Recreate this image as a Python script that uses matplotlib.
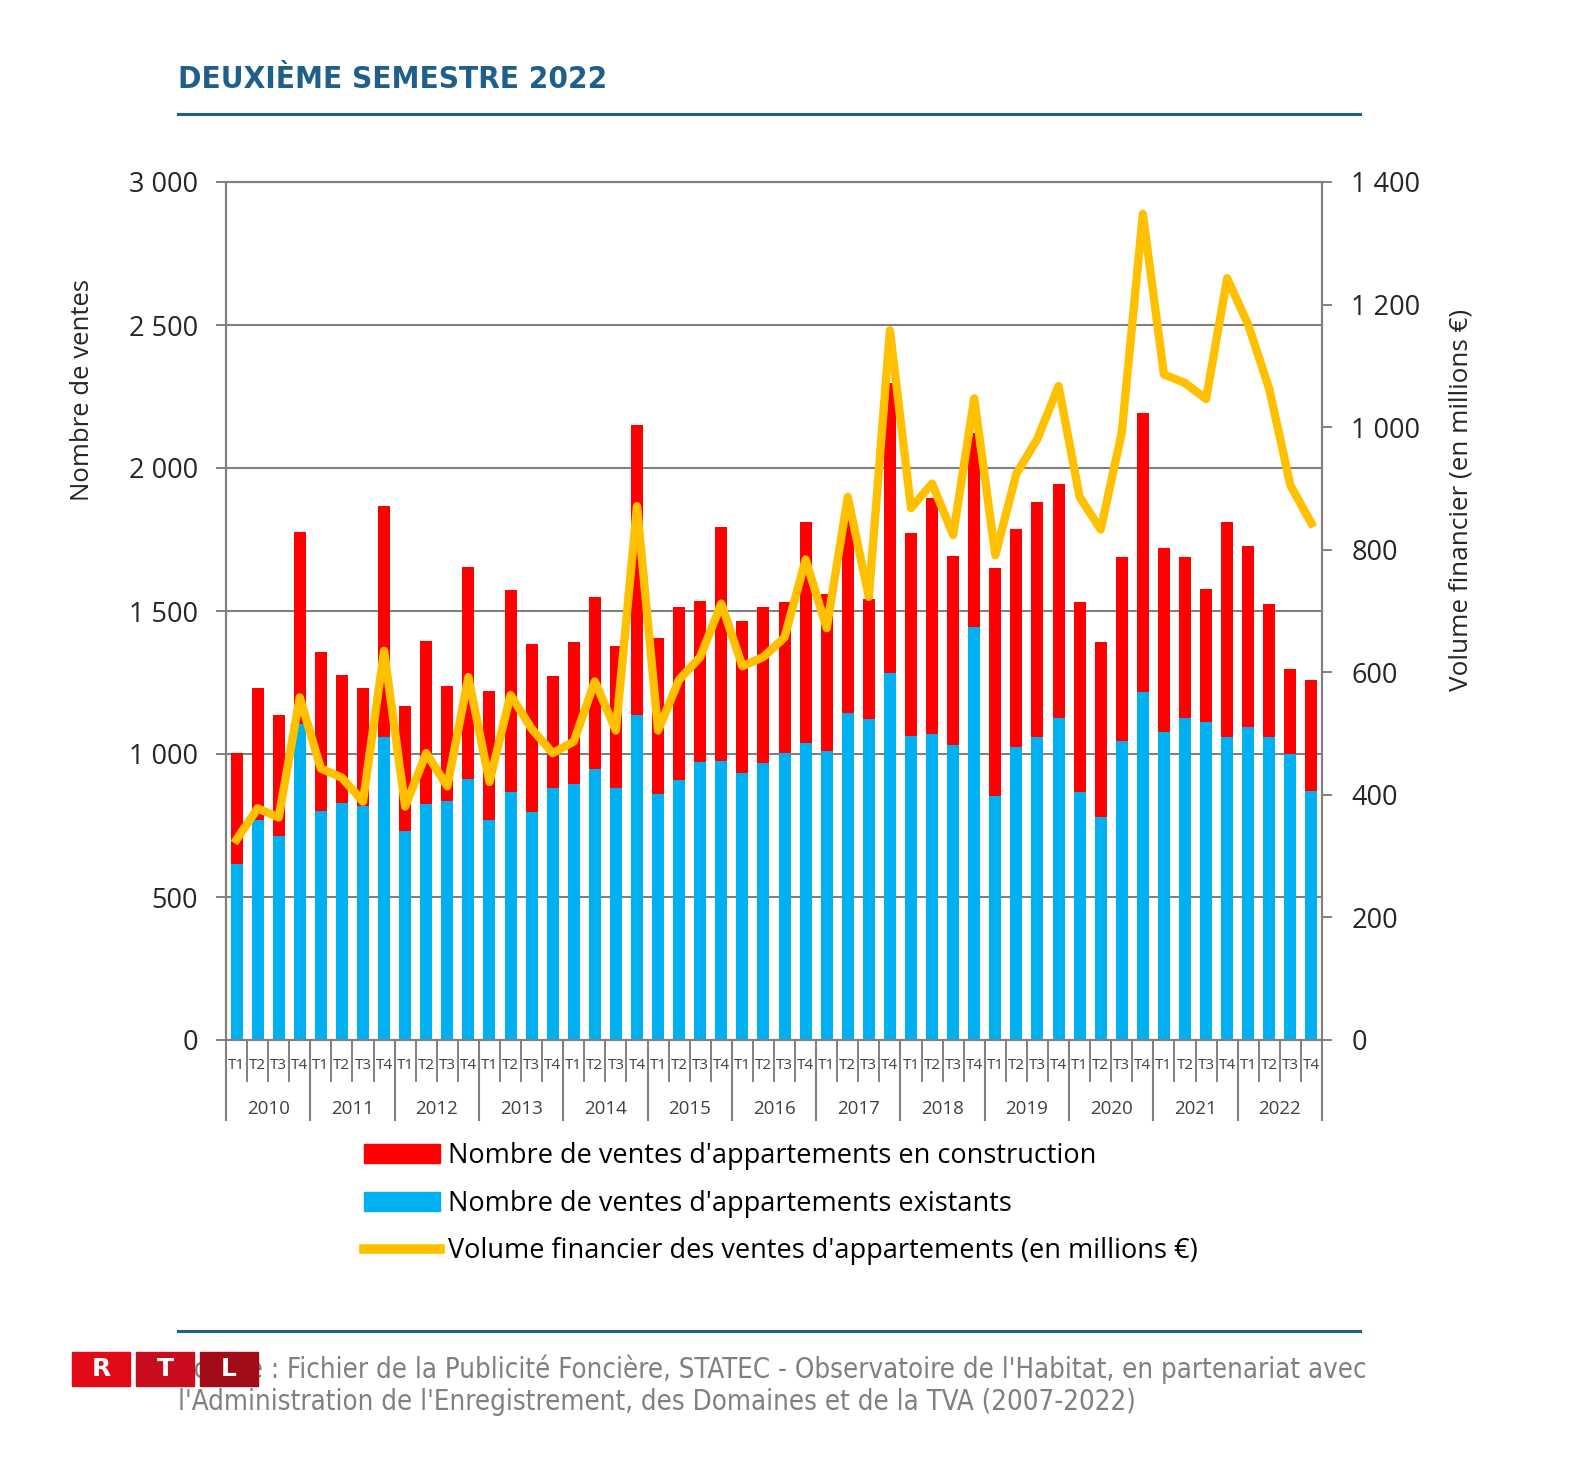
import matplotlib
matplotlib.use("Agg")
import matplotlib.pyplot as plt
from matplotlib import font_manager
from matplotlib.patches import Patch, Rectangle
from matplotlib.lines import Line2D

# quarters 2010 T1 .. 2022 T4
years = [str(y) for y in range(2010, 2023)]
quarters = ["T1", "T2", "T3", "T4"]

# Nombre de ventes d'appartements existants
existing = [615, 770, 713, 1105, 801, 828, 817, 1058, 731, 825, 837, 913,
            770, 867, 798, 882, 895, 949, 882, 1136, 861, 910, 973, 977,
            934, 968, 1004, 1038, 1012, 1144, 1124, 1284, 1063, 1071, 1030, 1443,
            853, 1025, 1061, 1127, 867, 780, 1045, 1218, 1078, 1127, 1112, 1061,
            1096, 1061, 1000, 871]

# Nombre de ventes d'appartements en construction
construction = [389, 460, 423, 672, 556, 448, 413, 809, 436, 571, 400, 740,
                452, 708, 587, 389, 496, 600, 494, 1016, 544, 604, 563, 816,
                532, 545, 529, 772, 549, 674, 417, 1013, 711, 824, 663, 679,
                796, 763, 821, 818, 664, 612, 643, 976, 643, 561, 466, 751,
                633, 464, 296, 388]

# Volume financier (en millions EUR)
volume = [327, 378, 363, 559, 443, 428, 389, 635, 381, 468, 414, 592,
          421, 563, 508, 468, 487, 585, 505, 871, 505, 588, 625, 712,
          610, 625, 657, 784, 672, 886, 723, 1158, 868, 908, 824, 1047,
          791, 924, 981, 1067, 886, 833, 991, 1348, 1086, 1072, 1046, 1243,
          1167, 1062, 905, 843]

W, H = 1572, 1463
def fx(px):
    return px / W
def fy(py):
    return 1 - py / H

names = {f.name for f in font_manager.fontManager.ttflist}
main_font = "Open Sans" if "Open Sans" in names else "DejaVu Sans"
narrow_font = "Liberation Sans Narrow" if "Liberation Sans Narrow" in names else "DejaVu Sans"

plt.rcParams["font.family"] = [main_font, "DejaVu Sans"]

RED = "#ff0000"
BLUE = "#00b0f0"
YELLOW = "#ffc000"
GRAY = "#808080"
NAVY = "#1f5f8c"

fig = plt.figure(figsize=(W / 100, H / 100), dpi=100)
ax = fig.add_axes([fx(226), fy(1040), fx(1322) - fx(226), fy(182) - fy(1040)])

x = list(range(len(existing)))
ax.bar(x, existing, width=0.57, color=BLUE, zorder=2)
ax.bar(x, construction, width=0.57, bottom=existing, color=RED, zorder=2)

ax.set_xlim(-0.5, len(x) - 0.5)
ax.set_ylim(0, 3000)
yt = list(range(0, 3001, 500))
ax.set_yticks(yt)
ax.set_yticklabels([f"{v:,}".replace(",", " ") for v in yt], fontsize=19.5, color="#262626")
ax.yaxis.grid(True, color=GRAY, lw=1.5)
ax.set_axisbelow(True)
ax.tick_params(axis="y", length=7, width=1.4, color=GRAY, pad=13)
for s in ax.spines.values():
    s.set_color(GRAY)
    s.set_linewidth(1.5)

# quarter labels and separators
ax.set_xticks(x)
ax.set_xticklabels([quarters[i % 4] for i in x], fontsize=11, color="#404040")
ax.tick_params(axis="x", which="major", length=0, pad=13)
ax.set_xticks([i - 0.5 for i in range(len(x) + 1)], minor=True)
ax.tick_params(axis="x", which="minor", length=30, width=1.4, color=GRAY)

tr = ax.get_xaxis_transform()
for k in range(len(years) + 1):
    ax.plot([4 * k - 0.5, 4 * k - 0.5], [0, -0.093], color=GRAY, lw=1.5,
            transform=tr, clip_on=False)
for k, yr in enumerate(years):
    ax.text(4 * k + 1.5, -0.080, yr, transform=tr, ha="center", va="center",
            fontsize=13.5, color="#404040")

ax.set_ylabel("Nombre de ventes", fontsize=18.5, color="#262626")
ax.yaxis.set_label_coords(-0.1195, 0.758)

ax2 = ax.twinx()
ax2.plot(x, volume, color=YELLOW, lw=6, solid_joinstyle="round", zorder=3)
ax2.set_ylim(0, 1400)
rt = list(range(0, 1401, 200))
ax2.set_yticks(rt)
ax2.set_yticklabels([f"{v:,}".replace(",", " ") for v in rt], fontsize=19.5, color="#262626")
ax2.tick_params(axis="y", length=7, width=1.4, color=GRAY, pad=14)
for s in ax2.spines.values():
    s.set_color(GRAY)
    s.set_linewidth(1.5)
ax2.set_ylabel("Volume financier (en millions €)", fontsize=18.8, color="#262626")
ax2.yaxis.set_label_coords(1.115, 0.629)

handles = [Patch(color=RED), Patch(color=BLUE), Line2D([], [], color=YELLOW, lw=7)]
labels = ["Nombre de ventes d'appartements en construction",
          "Nombre de ventes d'appartements existants",
          "Volume financier des ventes d'appartements (en millions €)"]
ax.legend(handles, labels, loc="upper left", bbox_to_anchor=(fx(364), fy(1142)),
          bbox_transform=fig.transFigure, frameon=False, fontsize=19.5,
          handlelength=2.8, handleheight=0.7, handletextpad=0.3,
          labelspacing=0.72, borderpad=0, borderaxespad=0)

# header and footer
fig.text(fx(178), fy(79), "DEUXIÈME SEMESTRE 2022", fontsize=22.5, fontweight="bold",
         color=NAVY, family=[narrow_font, "DejaVu Sans"], fontstretch="condensed",
         ha="left", va="center")
fig.add_artist(Line2D([fx(178), fx(1360)], [fy(114), fy(114)], color=NAVY, lw=2.2))
fig.add_artist(Line2D([fx(178), fx(1360)], [fy(1331), fy(1331)], color=NAVY, lw=2.2))

src = ("Source : Fichier de la Publicité Foncière, STATEC - Observatoire de l'Habitat, en partenariat avec\n"
       "l'Administration de l'Enregistrement, des Domaines et de la TVA (2007-2022)")
fig.text(fx(178), fy(1354), src, fontsize=19.8, color=GRAY, family=[narrow_font, "DejaVu Sans"],
         fontstretch="condensed", ha="left", va="top", linespacing=1.22)

# RTL logo
for lx, letter, col in [(72, "R", "#e30a17"), (136, "T", "#c80c1e"), (200, "L", "#a20b18")]:
    fig.add_artist(Rectangle((fx(lx), fy(1386)), fx(58), fy(1352) - fy(1386),
                             transform=fig.transFigure, color=col, zorder=5))
    fig.text(fx(lx + 29), fy(1369), letter, fontsize=18, fontweight="bold", color="white",
             ha="center", va="center", zorder=6, family="DejaVu Sans")

fig.savefig("out.png", dpi=100, facecolor="white")
